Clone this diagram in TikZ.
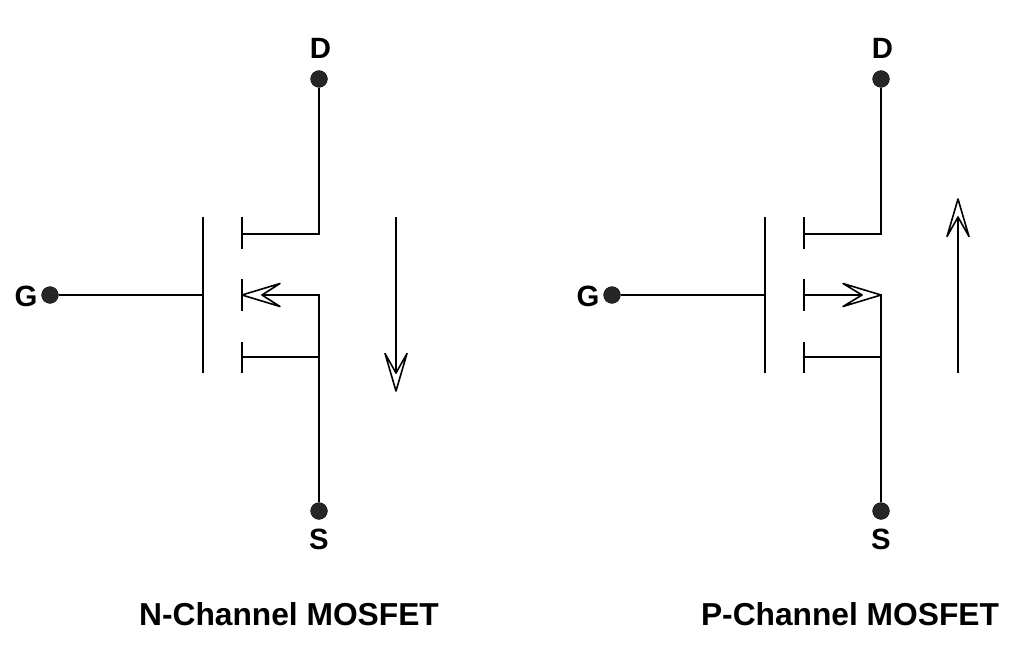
\documentclass[tikz,border=0pt]{standalone}
\usepackage{fontspec}
\setmainfont{Liberation Sans}
\definecolor{dotfill}{HTML}{262626}
\tikzset{
  wire/.style={draw=black,line width=1.6pt,line cap=butt,line join=miter},
  headline/.style={draw=black,line width=1.2pt,fill=white,line join=round},
  terminal/.style={circle,fill=dotfill,draw=black,line width=0.3pt,minimum size=12.6pt,inner sep=0pt},
  pinlabel/.style={font=\fontsize{22}{24}\selectfont\bfseries,inner sep=0pt},
  caption/.style={font=\fontsize{23.8}{26}\selectfont\bfseries,inner sep=0pt}
}
\begin{document}
\begin{tikzpicture}[x=0.75pt,y=-0.75pt]
\useasboundingbox (0,0) rectangle (1024,667);
% N-channel
\node[terminal] (nD) at (319,79) {};
\node[terminal] (nS) at (319,511) {};
\node[terminal] (nG) at (50,295) {};
\node[pinlabel] (nDl) at (320.5,48) {D};
\node[pinlabel] (nSl) at (319,539) {S};
\node[pinlabel] (nGl) at (26,296) {G};
\coordinate (nGt) at (203,217); \coordinate (nGb) at (203,373); \coordinate (nGm) at (203,295);
\coordinate (nC1t) at (242,217); \coordinate (nC1b) at (242,249); \coordinate (nC1m) at (242,234);
\coordinate (nC2t) at (242,279); \coordinate (nC2b) at (242,311); \coordinate (nC2m) at (242,295);
\coordinate (nC3t) at (242,342); \coordinate (nC3b) at (242,373); \coordinate (nC3m) at (242,357);
\coordinate (nDc) at (319,234); \coordinate (nSc) at (319,295); \coordinate (nSj) at (319,357);
\coordinate (nA1) at (396,217); \coordinate (nA2) at (396,373);
\draw[wire] (nG) -- (nGm);
\draw[wire] (nGt) -- (nGb);
\draw[wire] (nC1t) -- (nC1b);
\draw[wire] (nC2t) -- (nC2b);
\draw[wire] (nC3t) -- (nC3b);
\draw[wire] (nD) -- (nDc) -- (nC1m);
\draw[wire] (nS) -- (nSc) -- (nC2m);
\draw[wire] (nSj) -- (nC3m);
\draw[wire] (nA1) -- (nA2);
\draw[headline] (nC2m) -- (280,283.5) -- (262,295) -- (280,306.5) -- cycle;
\draw[headline] (396,391) -- (385,353.5) -- (nA2) -- (407,353.5) -- cycle;
\node[caption] (nT) at (289,614) {N-Channel MOSFET};
% P-channel
\node[terminal] (pD) at (881,79) {};
\node[terminal] (pS) at (881,511) {};
\node[terminal] (pG) at (612,295) {};
\node[pinlabel] (pDl) at (882.5,48) {D};
\node[pinlabel] (pSl) at (881,539) {S};
\node[pinlabel] (pGl) at (588,296) {G};
\coordinate (pGt) at (765,217); \coordinate (pGb) at (765,373); \coordinate (pGm) at (765,295);
\coordinate (pC1t) at (804,217); \coordinate (pC1b) at (804,249); \coordinate (pC1m) at (804,234);
\coordinate (pC2t) at (804,279); \coordinate (pC2b) at (804,311); \coordinate (pC2m) at (804,295);
\coordinate (pC3t) at (804,342); \coordinate (pC3b) at (804,373); \coordinate (pC3m) at (804,357);
\coordinate (pDc) at (881,234); \coordinate (pSc) at (881,295); \coordinate (pSj) at (881,357);
\coordinate (pA1) at (958,373); \coordinate (pA2) at (958,217);
\draw[wire] (pG) -- (pGm);
\draw[wire] (pGt) -- (pGb);
\draw[wire] (pC1t) -- (pC1b);
\draw[wire] (pC2t) -- (pC2b);
\draw[wire] (pC3t) -- (pC3b);
\draw[wire] (pD) -- (pDc) -- (pC1m);
\draw[wire] (pS) -- (pSc) -- (pC2m);
\draw[wire] (pSj) -- (pC3m);
\draw[wire] (pA1) -- (pA2);
\draw[headline] (pSc) -- (843,283.5) -- (862,295) -- (843,306.5) -- cycle;
\draw[headline] (958,199) -- (947,236.5) -- (pA2) -- (969,236.5) -- cycle;
\node[caption] (pT) at (850,614) {P-Channel MOSFET};
\end{tikzpicture}
\end{document}
